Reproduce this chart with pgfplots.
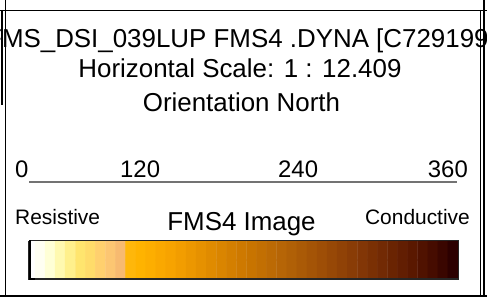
\documentclass[border=0pt]{standalone}
\usepackage{pgfplots}
\pgfplotsset{compat=1.18}
\usepackage{pgfplotstable}
\usepackage{fontspec}
\setmainfont{Liberation Sans}

% colour bands of the FMS4 image scale: centre x, row y, colour index
\pgfplotstableread{
x y c
40.0 250.5 0
50.1 250.5 1
60.1 250.5 2
70.2 250.5 3
80.3 250.5 4
90.4 250.5 5
100.4 250.5 6
110.5 250.5 7
120.6 250.5 8
130.6 250.5 9
140.7 250.5 10
150.8 250.5 11
160.9 250.5 12
170.9 250.5 13
181.0 250.5 14
191.1 250.5 15
201.2 250.5 16
211.2 250.5 17
221.3 250.5 18
231.4 250.5 19
241.5 250.5 20
251.5 250.5 21
261.6 250.5 22
271.7 250.5 23
281.7 250.5 24
291.8 250.5 25
301.9 250.5 26
312.0 250.5 27
322.0 250.5 28
332.1 250.5 29
342.2 250.5 30
352.2 250.5 31
362.3 250.5 32
372.4 250.5 33
382.4 250.5 34
392.5 250.5 35
402.6 250.5 36
412.7 250.5 37
422.7 250.5 38
432.8 250.5 39
442.9 250.5 40
452.9 250.5 41
40.0 269.5 0
50.1 269.5 1
60.1 269.5 2
70.2 269.5 3
80.3 269.5 4
90.4 269.5 5
100.4 269.5 6
110.5 269.5 7
120.6 269.5 8
130.6 269.5 9
140.7 269.5 10
150.8 269.5 11
160.9 269.5 12
170.9 269.5 13
181.0 269.5 14
191.1 269.5 15
201.2 269.5 16
211.2 269.5 17
221.3 269.5 18
231.4 269.5 19
241.5 269.5 20
251.5 269.5 21
261.6 269.5 22
271.7 269.5 23
281.7 269.5 24
291.8 269.5 25
301.9 269.5 26
312.0 269.5 27
322.0 269.5 28
332.1 269.5 29
342.2 269.5 30
352.2 269.5 31
362.3 269.5 32
372.4 269.5 33
382.4 269.5 34
392.5 269.5 35
402.6 269.5 36
412.7 269.5 37
422.7 269.5 38
432.8 269.5 39
442.9 269.5 40
452.9 269.5 41
}\bands

\begin{document}
\begin{tikzpicture}
\begin{axis}[
  at={(0,0)}, anchor=south west,
  width=487bp, height=297bp, scale only axis,
  xmin=0, xmax=487, ymin=0, ymax=297, y dir=reverse,
  hide axis, clip=true,
  colormap={fms}{
    rgb255=(255,255,242) rgb255=(255,255,214) rgb255=(255,249,176) rgb255=(255,240,140)
    rgb255=(255,229,110) rgb255=(255,220,106) rgb255=(255,208,110) rgb255=(252,198,114)
    rgb255=(247,186,112) rgb255=(255,183,10) rgb255=(255,179,0) rgb255=(253,174,0)
    rgb255=(250,168,0) rgb255=(247,163,0) rgb255=(242,157,0) rgb255=(236,151,0)
    rgb255=(230,145,0) rgb255=(224,139,0) rgb255=(218,133,0) rgb255=(212,127,0)
    rgb255=(206,121,0) rgb255=(200,116,0) rgb255=(194,111,2) rgb255=(188,106,4)
    rgb255=(182,101,6) rgb255=(176,96,6) rgb255=(170,90,6) rgb255=(164,84,6)
    rgb255=(158,78,6) rgb255=(151,72,6) rgb255=(144,66,6) rgb255=(137,60,6)
    rgb255=(130,54,6) rgb255=(122,48,4) rgb255=(114,42,4) rgb255=(106,36,2)
    rgb255=(98,30,2) rgb255=(90,24,0) rgb255=(80,18,0) rgb255=(70,12,0)
    rgb255=(58,6,0) rgb255=(44,0,0)
  },
  colormap access=direct,
]
% frame
\addplot[black, line width=1.2bp] coordinates {(0,10.5) (487,10.5)};
\addplot[black, line width=1.2bp] coordinates {(0,296) (487,296)};
\addplot[black, line width=1.2bp] coordinates {(2,10) (2,105)};
\addplot[black, line width=1.2bp] coordinates {(5.5,0) (5.5,297)};
\addplot[black, line width=1.2bp] coordinates {(480.5,10) (480.5,297)};
\addplot[black, line width=1.2bp] coordinates {(484,0) (484,297)};
% scale line
\addplot[black!55, line width=1.3bp] coordinates {(29,182) (457,182)};
% colour bar
\addplot[matrix plot*, mesh/cols=42, point meta=explicit] table[x=x, y=y, meta=c] {\bands};
\addplot[black!85, line width=1.1bp] coordinates {(29,240.5) (458.5,240.5) (458.5,279) (29,279) (29,240.5)};
\addplot[black, line width=2bp] coordinates {(29.5,240) (29.5,279)};
\addplot[black, line width=2bp] coordinates {(29,278.5) (35,278.5)};
% texts
\node[anchor=base, font=\fontsize{26}{30}\selectfont, inner sep=0pt] at (axis cs:241,47) {FMS\_DSI\_039LUP FMS4 .DYNA [C729199]};
\node[anchor=base, font=\fontsize{26}{30}\selectfont, inner sep=0pt] at (axis cs:240,77) {Horizontal Scale: 1 : 12.409};
\node[anchor=base, font=\fontsize{26}{30}\selectfont, inner sep=0pt] at (axis cs:241.5,111.5) {Orientation North};
\node[anchor=base west, font=\fontsize{24}{28}\selectfont, inner sep=0pt] at (axis cs:15,177) {0};
\node[anchor=base west, font=\fontsize{24}{28}\selectfont, inner sep=0pt] at (axis cs:120,177) {120};
\node[anchor=base west, font=\fontsize{24}{28}\selectfont, inner sep=0pt] at (axis cs:278,177) {240};
\node[anchor=base east, font=\fontsize{24}{28}\selectfont, inner sep=0pt] at (axis cs:468,177) {360};
\node[anchor=base west, font=\fontsize{21}{25}\selectfont, inner sep=0pt] at (axis cs:15,224) {Resistive};
\node[anchor=base east, font=\fontsize{21}{25}\selectfont, inner sep=0pt] at (axis cs:470,224) {Conductive};
\node[anchor=base, font=\fontsize{26}{30}\selectfont, inner sep=0pt] at (axis cs:241.5,230) {FMS4 Image};
\coordinate (LL) at (axis cs:0,297);
\coordinate (UR) at (axis cs:487,0);
\end{axis}
\pgfresetboundingbox
\useasboundingbox (LL) rectangle (UR);
\end{tikzpicture}
\end{document}
